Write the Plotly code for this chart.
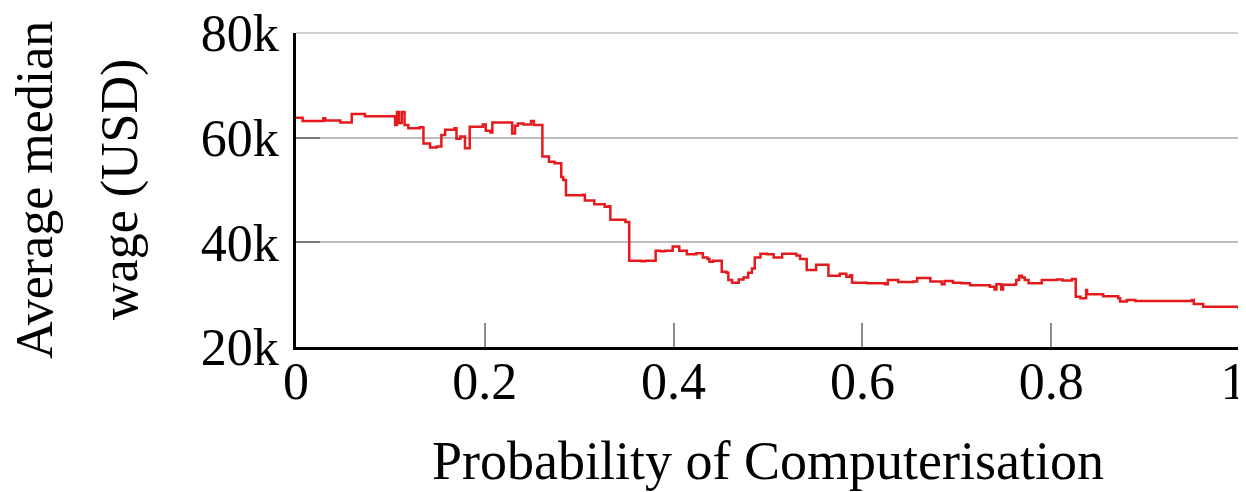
import plotly.graph_objects as go

# Probability of computerisation (step positions) and average median wage (USD)
probability = [
    0.000, 0.007, 0.029, 0.031, 0.047, 0.059, 0.073, 0.105, 0.107, 0.109,
    0.112, 0.115, 0.119, 0.131, 0.135, 0.142, 0.149, 0.154, 0.158, 0.168,
    0.170, 0.174, 0.179, 0.184, 0.198, 0.201, 0.206, 0.208, 0.229, 0.232,
    0.235, 0.241, 0.249, 0.252, 0.261, 0.268, 0.274, 0.281, 0.283, 0.286,
    0.304, 0.306, 0.316, 0.327, 0.331, 0.333, 0.349, 0.353, 0.366, 0.370,
    0.381, 0.386, 0.391, 0.399, 0.406, 0.414, 0.424, 0.431, 0.436, 0.438,
    0.442, 0.451, 0.456, 0.458, 0.462, 0.469, 0.474, 0.479, 0.483, 0.486,
    0.492, 0.499, 0.506, 0.515, 0.530, 0.534, 0.541, 0.551, 0.564, 0.576,
    0.583, 0.587, 0.589, 0.605, 0.624, 0.627, 0.638, 0.654, 0.658, 0.670,
    0.672, 0.684, 0.687, 0.696, 0.705, 0.714, 0.735, 0.740, 0.742, 0.747,
    0.749, 0.762, 0.763, 0.766, 0.769, 0.772, 0.776, 0.790, 0.806, 0.812,
    0.822, 0.826, 0.831, 0.837, 0.838, 0.855, 0.871, 0.873, 0.880, 0.889,
    0.949, 0.951, 0.961, 0.998, 1.000,
]
wage_usd = [
    63800, 63200, 63700, 63300, 62900, 64500, 64100, 62400, 64900, 62800,
    64900, 62400, 61800, 62000, 58900, 58100, 58300, 60500, 61500, 61800,
    59800, 60200, 58000, 62100, 62500, 61300, 61000, 62900, 60800, 62300,
    62700, 62500, 63200, 62400, 56400, 55400, 55100, 52500, 51900, 49000,
    49100, 48000, 47300, 46800, 46900, 44300, 43900, 36500, 36400, 36500,
    38400, 38300, 38400, 39200, 38400, 37700, 37900, 37100, 36800, 36300,
    36500, 34400, 34200, 32800, 32300, 32900, 33300, 34200, 35000, 37100,
    37800, 37700, 37100, 37800, 37500, 36800, 34700, 35700, 33600, 34000,
    33400, 33700, 32300, 32200, 32000, 32800, 32400, 32500, 33200, 33200,
    32500, 32000, 32600, 32300, 32200, 31800, 31500, 31000, 32000, 31000,
    31900, 32000, 32800, 33600, 33300, 32800, 32200, 32800, 32900, 32700,
    33000, 29600, 29300, 30900, 30100, 29700, 29300, 28700, 29000, 28800,
    29000, 28200, 27700, 27600, 27500,
]

x_tick_vals = [0, 0.2, 0.4, 0.6, 0.8, 1]
x_tick_text = ["0", "0.2", "0.4", "0.6", "0.8", "1\u00a0"]
y_tick_vals = [20000, 40000, 60000, 80000]
y_tick_text = ["20k", "40k", "60k", "80k"]

x_title = "Probability of Computerisation"
y_title_lines = ["Average median", "wage (USD)"]

FONT = "Liberation Serif, Times New Roman, serif"

# page body has an 8px default margin; figure is sized to fill the rest
W, H = 1238, 484
ML, MT, MR, MB = 288, 25, 6, 145
PH = H - MT - MB
PW = W - ML - MR

fig = go.Figure()
fig.add_trace(go.Scatter(
    x=probability, y=wage_usd, mode="lines",
    line=dict(color="#e41a1c", width=2.5, shape="hv"),
    showlegend=False, hoverinfo="skip",
))

fig.update_layout(
    width=W, height=H,
    margin=dict(l=ML, r=MR, t=MT, b=MB, pad=0, autoexpand=False),
    paper_bgcolor="white", plot_bgcolor="white",
    font=dict(family=FONT, color="black", size=50),
    xaxis=dict(
        range=[0, 1], tickvals=x_tick_vals, ticktext=x_tick_text,
        ticks="inside", ticklen=24, tickwidth=1.5, tickcolor="#8c8c8c",
        showline=True, linecolor="black", linewidth=2.5,
        showgrid=False, zeroline=False, automargin=False,
        tickfont=dict(family=FONT, size=52, color="black"),
        ticklabelstandoff=-13, ticklabeloverflow="allow",
    ),
    yaxis=dict(
        range=[20000, 80000], tickvals=y_tick_vals, ticktext=y_tick_text,
        ticks="inside", ticklen=24, tickwidth=1.5, tickcolor="#7a7a7a",
        showline=True, linecolor="black", linewidth=2.5,
        showgrid=True, gridcolor="#bdbdbd", gridwidth=2,
        zeroline=False, automargin=False,
        tickfont=dict(family=FONT, size=52, color="black"),
        ticklabelstandoff=4, ticklabeloverflow="allow",
    ),
)

# light top frame line at the 80k level
fig.add_shape(
    type="line", xref="paper", yref="paper", x0=0, x1=1, y0=1, y1=1,
    line=dict(color="#d0d0d0", width=2), layer="below",
)

# x-axis title (centre of text box about 453 px down the figure)
fig.add_annotation(
    text=x_title, xref="paper", yref="paper", x=0.5, y=-(453 - (MT + PH)) / PH,
    xanchor="center", yanchor="middle", showarrow=False,
    font=dict(family=FONT, size=54, color="black"),
)
# y-axis title, two rotated lines
fig.add_annotation(
    text=y_title_lines[0], textangle=-90,
    xref="paper", yref="paper", x=(26 - ML) / PW, y=0.5,
    xanchor="center", yanchor="middle", showarrow=False,
    font=dict(family=FONT, size=52, color="black"),
)
fig.add_annotation(
    text=y_title_lines[1], textangle=-90,
    xref="paper", yref="paper", x=(112 - ML) / PW, y=0.5,
    xanchor="center", yanchor="middle", showarrow=False,
    font=dict(family=FONT, size=52, color="black"),
)

fig.write_html("out.html")
